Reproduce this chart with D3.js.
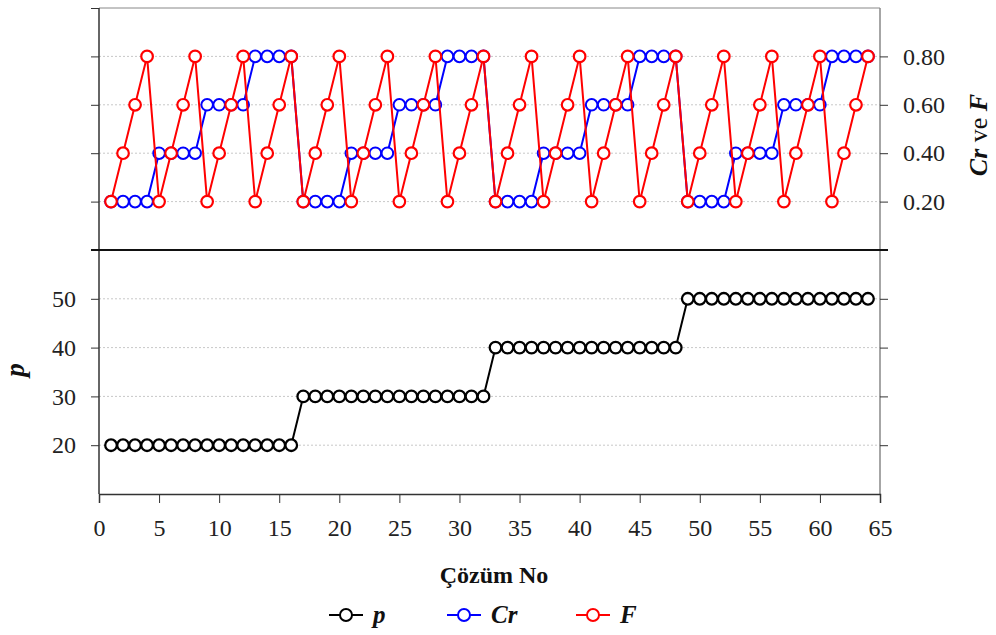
<!DOCTYPE html>
<html>
<head>
<meta charset="utf-8">
<script src="https://cdn.jsdelivr.net/npm/d3@7"></script>
<style>
  body { margin: 0; background: #fff; }
  text { font-family: "Liberation Serif", "DejaVu Serif", serif; }
</style>
</head>
<body>
<div id="chart"></div>
<script>
// solution numbers
const solutionNo = [1,2,3,4,5,6,7,8,9,10,11,12,13,14,15,16,17,18,19,20,21,22,23,24,25,26,27,28,29,30,31,32,
  33,34,35,36,37,38,39,40,41,42,43,44,45,46,47,48,49,50,51,52,53,54,55,56,57,58,59,60,61,62,63,64];

const pValues = [20,20,20,20,20,20,20,20,20,20,20,20,20,20,20,20,
  30,30,30,30,30,30,30,30,30,30,30,30,30,30,30,30,
  40,40,40,40,40,40,40,40,40,40,40,40,40,40,40,40,
  50,50,50,50,50,50,50,50,50,50,50,50,50,50,50,50];

const crValues = [0.2,0.2,0.2,0.2,0.4,0.4,0.4,0.4,0.6,0.6,0.6,0.6,0.8,0.8,0.8,0.8,
  0.2,0.2,0.2,0.2,0.4,0.4,0.4,0.4,0.6,0.6,0.6,0.6,0.8,0.8,0.8,0.8,
  0.2,0.2,0.2,0.2,0.4,0.4,0.4,0.4,0.6,0.6,0.6,0.6,0.8,0.8,0.8,0.8,
  0.2,0.2,0.2,0.2,0.4,0.4,0.4,0.4,0.6,0.6,0.6,0.6,0.8,0.8,0.8,0.8];

const fValues = [0.2,0.4,0.6,0.8,0.2,0.4,0.6,0.8,0.2,0.4,0.6,0.8,0.2,0.4,0.6,0.8,
  0.2,0.4,0.6,0.8,0.2,0.4,0.6,0.8,0.2,0.4,0.6,0.8,0.2,0.4,0.6,0.8,
  0.2,0.4,0.6,0.8,0.2,0.4,0.6,0.8,0.2,0.4,0.6,0.8,0.2,0.4,0.6,0.8,
  0.2,0.4,0.6,0.8,0.2,0.4,0.6,0.8,0.2,0.4,0.6,0.8,0.2,0.4,0.6,0.8];

const xTicks = [0,5,10,15,20,25,30,35,40,45,50,55,60,65];
const pTicks = [20,30,40,50];
const rateTicks = [0.2,0.4,0.6,0.8];

const width = 996, height = 635;
const left = 99, right = 880;
const topY = 8, midY = 250, bottomY = 494;

const svg = d3.select("#chart").append("svg")
  .attr("width", width)
  .attr("height", height);

const x = d3.scaleLinear().domain([0, 65]).range([left, right]);
const yRate = d3.scaleLinear().domain([0, 1]).range([midY, topY]);
const yP = d3.scaleLinear().domain([10, 60]).range([bottomY, midY]);

// grid lines
svg.append("g").selectAll("line.gr")
  .data(rateTicks).enter().append("line")
  .attr("x1", left).attr("x2", right)
  .attr("y1", d => yRate(d)).attr("y2", d => yRate(d))
  .attr("stroke", "#c8c8c8").attr("stroke-dasharray", "2,2").attr("stroke-width", 1);
svg.append("g").selectAll("line.gp")
  .data(pTicks).enter().append("line")
  .attr("x1", left).attr("x2", right)
  .attr("y1", d => yP(d)).attr("y2", d => yP(d))
  .attr("stroke", "#c8c8c8").attr("stroke-dasharray", "2,2").attr("stroke-width", 1);

// frame
svg.append("line").attr("x1", left).attr("x2", right).attr("y1", topY).attr("y2", topY)
  .attr("stroke", "#888").attr("stroke-width", 1);
svg.append("line").attr("x1", right).attr("x2", right).attr("y1", topY).attr("y2", bottomY)
  .attr("stroke", "#888").attr("stroke-width", 1.5);

// left axis of top panel (ticks only)
svg.append("g")
  .attr("transform", `translate(${left},0)`)
  .call(d3.axisLeft(yRate).tickValues([0,0.2,0.4,0.6,0.8,1]).tickSize(8).tickFormat(""))
  .call(g => g.select(".domain").remove())
  .call(g => g.selectAll("line").attr("stroke", "#333"));

// right axis of top panel
svg.append("g")
  .attr("transform", `translate(${right},0)`)
  .call(d3.axisRight(yRate).tickValues(rateTicks).tickSize(8).tickPadding(15).tickFormat(d3.format(".2f")))
  .call(g => g.select(".domain").remove())
  .call(g => g.selectAll("line").attr("stroke", "#333"))
  .call(g => g.selectAll("text").attr("font-size", 24).attr("fill", "#222"));

// left axis of bottom panel
svg.append("g")
  .attr("transform", `translate(${left},0)`)
  .call(d3.axisLeft(yP).tickValues(pTicks).tickSize(8).tickPadding(15))
  .call(g => g.select(".domain").remove())
  .call(g => g.selectAll("line").attr("stroke", "#333"))
  .call(g => g.selectAll("text").attr("font-size", 24).attr("fill", "#222"));

// right ticks of bottom panel
svg.append("g")
  .attr("transform", `translate(${right},0)`)
  .call(d3.axisRight(yP).tickValues(pTicks).tickSize(8).tickFormat(""))
  .call(g => g.select(".domain").remove())
  .call(g => g.selectAll("line").attr("stroke", "#333"));

// left axis line
svg.append("line").attr("x1", left).attr("x2", left).attr("y1", topY).attr("y2", bottomY)
  .attr("stroke", "#333").attr("stroke-width", 1.5);

// x axis
svg.append("g")
  .attr("transform", `translate(0,${bottomY})`)
  .call(d3.axisBottom(x).tickValues(xTicks).tickSize(9).tickPadding(16))
  .call(g => g.select(".domain").attr("stroke", "#333").attr("stroke-width", 1.5))
  .call(g => g.selectAll("line").attr("stroke", "#333"))
  .call(g => g.selectAll("text").attr("font-size", 24).attr("fill", "#222"));

// divider between panels
svg.append("line").attr("x1", left - 8).attr("x2", right + 8).attr("y1", midY).attr("y2", midY)
  .attr("stroke", "#111").attr("stroke-width", 2);

function drawSeries(values, yScale, color, sw) {
  const pts = solutionNo.map((n, i) => [n, values[i]]);
  svg.append("path")
    .datum(pts)
    .attr("fill", "none")
    .attr("stroke", color)
    .attr("stroke-width", 2)
    .attr("d", d3.line().x(d => x(d[0])).y(d => yScale(d[1])));
  svg.append("g").selectAll("circle")
    .data(pts).enter().append("circle")
    .attr("cx", d => x(d[0]))
    .attr("cy", d => yScale(d[1]))
    .attr("r", 5.8)
    .attr("fill", "#fff")
    .attr("stroke", color)
    .attr("stroke-width", sw);
}

drawSeries(crValues, yRate, "#0000ff", 2);
drawSeries(fValues, yRate, "#ff0000", 2.2);
drawSeries(pValues, yP, "#000", 2.3);

// axis titles
svg.append("text")
  .attr("x", 494).attr("y", 583)
  .attr("text-anchor", "middle").attr("font-size", 24).attr("font-weight", "bold")
  .attr("fill", "#111")
  .text("Çözüm No");

svg.append("text")
  .attr("transform", `translate(24,370) rotate(-90)`)
  .attr("text-anchor", "middle").attr("font-size", 27).attr("font-weight", "bold")
  .attr("font-style", "italic").attr("fill", "#111")
  .text("p");

const rt = svg.append("text")
  .attr("transform", `translate(987,135) rotate(-90)`)
  .attr("text-anchor", "middle").attr("font-size", 26).attr("fill", "#111");
rt.append("tspan").attr("font-weight", "bold").attr("font-style", "italic").text("Cr");
rt.append("tspan").text(" ve ");
rt.append("tspan").attr("font-weight", "bold").attr("font-style", "italic").text("F");

// legend
const legendItems = [
  { label: "p", color: "#000", x: 329 },
  { label: "Cr", color: "#0000ff", x: 447 },
  { label: "F", color: "#ff0000", x: 576 }
];
const lg = svg.append("g").selectAll("g").data(legendItems).enter().append("g")
  .attr("transform", d => `translate(${d.x},615)`);
lg.append("line").attr("x1", 0).attr("x2", 34).attr("y1", 0).attr("y2", 0)
  .attr("stroke", d => d.color).attr("stroke-width", 2);
lg.append("circle").attr("cx", 17).attr("cy", 0).attr("r", 6)
  .attr("fill", "#fff").attr("stroke", d => d.color).attr("stroke-width", 2);
lg.append("text").attr("x", 44).attr("y", 8)
  .attr("font-size", 25).attr("font-weight", "bold").attr("font-style", "italic")
  .attr("fill", "#111")
  .text(d => d.label);
</script>
</body>
</html>
